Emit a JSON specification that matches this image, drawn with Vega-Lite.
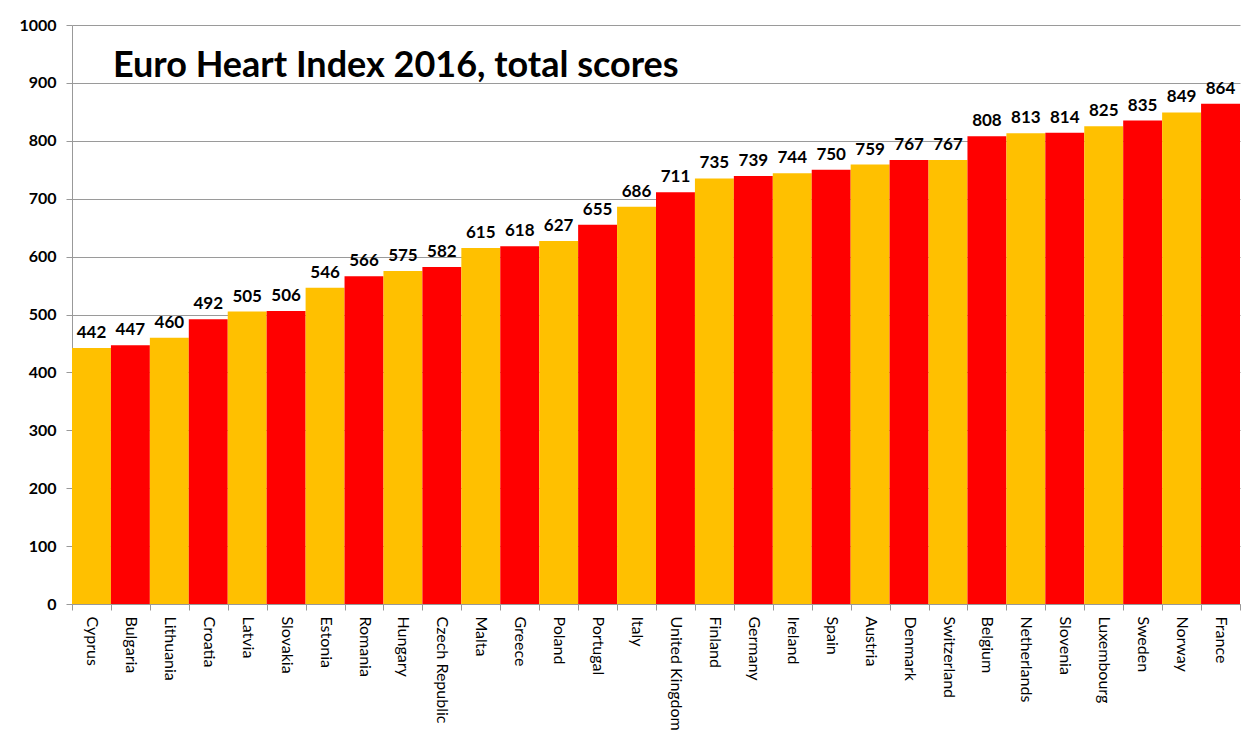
{
  "$schema": "https://vega.github.io/schema/vega-lite/v6.json",
  "width": 1168,
  "height": 579,
  "autosize": {"type": "none"},
  "padding": {"left": 72, "top": 25, "right": 10, "bottom": 132},
  "background": "white",
  "datasets": {
    "scores": [
      {"country": "Cyprus", "score": 442},
      {"country": "Bulgaria", "score": 447},
      {"country": "Lithuania", "score": 460},
      {"country": "Croatia", "score": 492},
      {"country": "Latvia", "score": 505},
      {"country": "Slovakia", "score": 506},
      {"country": "Estonia", "score": 546},
      {"country": "Romania", "score": 566},
      {"country": "Hungary", "score": 575},
      {"country": "Czech Republic", "score": 582},
      {"country": "Malta", "score": 615},
      {"country": "Greece", "score": 618},
      {"country": "Poland", "score": 627},
      {"country": "Portugal", "score": 655},
      {"country": "Italy", "score": 686},
      {"country": "United Kingdom", "score": 711},
      {"country": "Finland", "score": 735},
      {"country": "Germany", "score": 739},
      {"country": "Ireland", "score": 744},
      {"country": "Spain", "score": 750},
      {"country": "Austria", "score": 759},
      {"country": "Denmark", "score": 767},
      {"country": "Switzerland", "score": 767},
      {"country": "Belgium", "score": 808},
      {"country": "Netherlands", "score": 813},
      {"country": "Slovenia", "score": 814},
      {"country": "Luxembourg", "score": 825},
      {"country": "Sweden", "score": 835},
      {"country": "Norway", "score": 849},
      {"country": "France", "score": 864}
    ],
    "heading": [
      {"label": "Euro Heart Index 2016, total scores"}
    ]
  },
  "layer": [
    {
      "data": {"name": "scores"},
      "transform": [
        {"window": [{"op": "row_number", "as": "rank"}]}
      ],
      "encoding": {
        "x": {
          "field": "country",
          "type": "nominal",
          "sort": null,
          "scale": {"paddingInner": 0, "paddingOuter": 0},
          "axis": {
            "title": null,
            "labelAngle": 90,
            "labelAlign": "left",
            "labelBaseline": "middle",
            "labelFont": "Lato",
            "labelFontSize": 16,
            "labelColor": "black",
            "labelPadding": 6,
            "tickBand": "extent",
            "tickColor": "#999999",
            "tickSize": 6,
            "domainColor": "#999999",
            "labelOverlap": false
          }
        },
        "y": {
          "field": "score",
          "type": "quantitative",
          "scale": {"domain": [0, 1000], "nice": false},
          "axis": {
            "title": null,
            "format": "d",
            "values": [0, 100, 200, 300, 400, 500, 600, 700, 800, 900, 1000],
            "labelFont": "Lato",
            "labelFontSize": 16,
            "labelFontWeight": "bold",
            "labelColor": "black",
            "labelPadding": 10,
            "tickColor": "#999999",
            "tickSize": 6,
            "domainColor": "#999999",
            "grid": true,
            "gridColor": "#9a9a9a",
            "gridWidth": 1
          }
        }
      },
      "layer": [
        {
          "mark": {"type": "bar"},
          "encoding": {
            "color": {
              "condition": {"test": "datum.rank % 2 == 1", "value": "#FFC000"},
              "value": "#FF0000"
            }
          }
        },
        {
          "mark": {
            "type": "text",
            "dy": -15,
            "font": "Lato",
            "fontSize": 17,
            "fontWeight": "bold",
            "color": "black"
          },
          "encoding": {
            "text": {"field": "score", "type": "quantitative"}
          }
        }
      ]
    },
    {
      "data": {"name": "heading"},
      "mark": {
        "type": "text",
        "align": "left",
        "baseline": "alphabetic",
        "dx": 2,
        "font": "Lato",
        "fontSize": 36,
        "fontWeight": "bold",
        "color": "black"
      },
      "encoding": {
        "x": {"datum": "Bulgaria", "type": "nominal", "bandPosition": 0},
        "y": {"datum": 910, "type": "quantitative"},
        "text": {"field": "label", "type": "nominal"}
      }
    }
  ],
  "config": {
    "view": {"stroke": null}
  }
}
